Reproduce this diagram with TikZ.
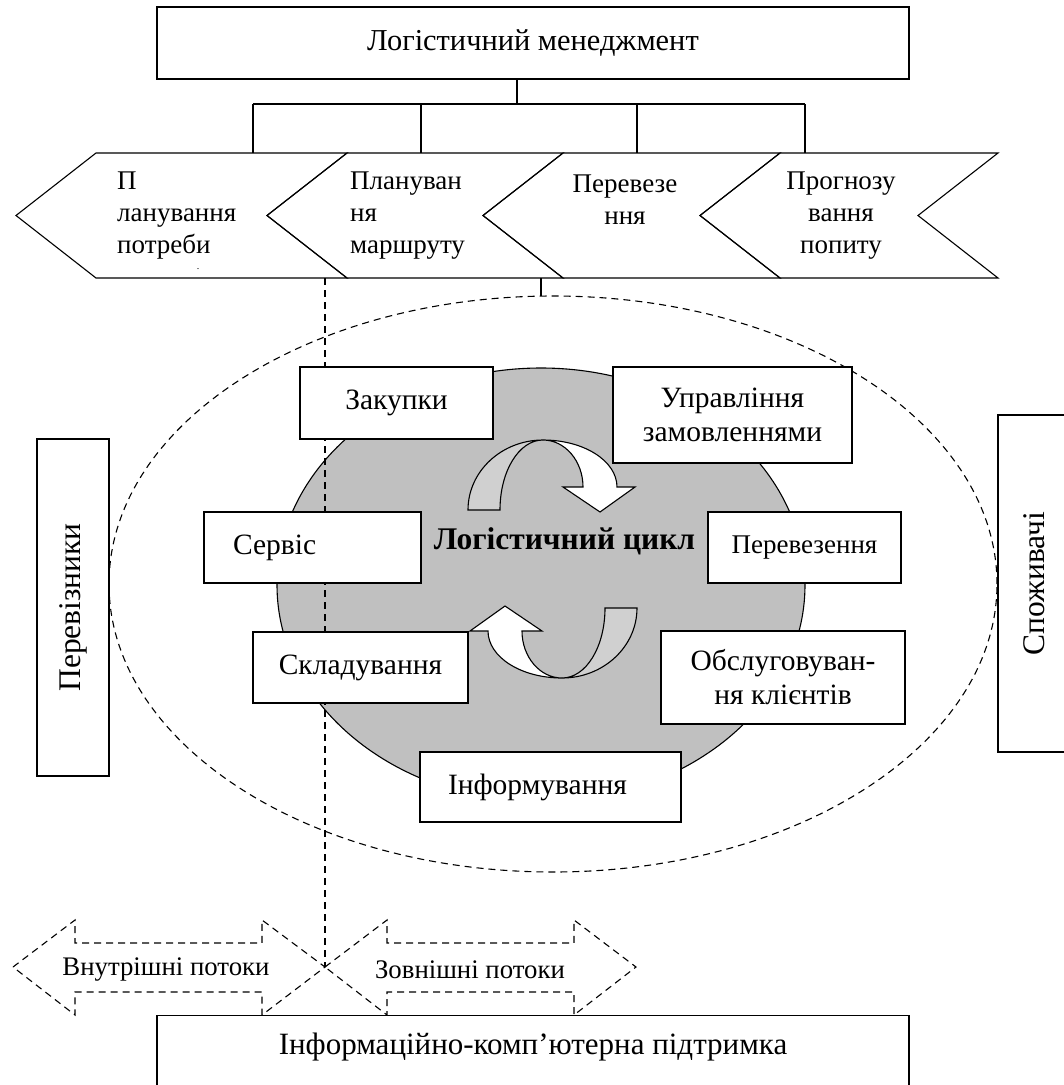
\documentclass[tikz,border=0pt]{standalone}
\usepackage{fontspec}
\setmainfont{Liberation Serif}
\definecolor{cycgray}{HTML}{C0C0C0}
\definecolor{backgray}{HTML}{D0D0D0}
\begin{document}
\begin{tikzpicture}[x=1pt,y=-1pt,
  box/.style={draw, line width=1.1pt, fill=white, inner sep=0pt, align=center, font=\fontsize{29.5}{34}\selectfont},
  lbl/.style={inner sep=0pt, align=center, font=\fontsize{29.5}{34}\selectfont},
  chevtext/.style={inner sep=0pt, font=\fontsize{27}{32}\selectfont},
  flowtext/.style={inner sep=0pt, font=\fontsize{26.8}{30}\selectfont},
  thin/.style={line width=1.1pt},
  dashline/.style={line width=1.1pt, dash pattern=on 7pt off 5pt},
  cycarrow/.style={line width=1.1pt}]
\useasboundingbox (0,0) rectangle (1064,1085);

% outer dashed ellipse and grey cycle
\draw[dashline] (553,584) ellipse [x radius=444pt, y radius=288pt];
\filldraw[fill=cycgray, thin] (541,585) ellipse [x radius=264pt, y radius=217pt];

% top management box and tree
\node[box, minimum width=752pt, minimum height=72pt, font=\fontsize{30.4}{35}\selectfont] (mgmt) at (533,43) {Логістичний менеджмент};
\coordinate (t0) at (517,104);
\coordinate (h1) at (253,104);
\coordinate (h2) at (421,104);
\coordinate (h3) at (637,104);
\coordinate (h4) at (805,104);
\coordinate (c1) at (253,153);
\coordinate (c2) at (421,153);
\coordinate (c3) at (637,153);
\coordinate (c4) at (805,153);
\draw[thin] (mgmt.south -| t0) -- (t0);
\draw[thin] (h1) -- (h4);
\draw[thin] (h1) -- (c1);
\draw[thin] (h2) -- (c2);
\draw[thin] (h3) -- (c3);
\draw[thin] (h4) -- (c4);

% chevrons
\foreach \a/\b in {16/267, 267/483, 483/700, 700/918}{
  \draw[thin, line join=miter] (\a,215.5) -- (\a+80,153) -- (\b+80,153) -- (\b,215.5) -- (\b+80,278) -- (\a+80,278) -- cycle;
}
\node[chevtext, anchor=west, align=left] (ch1) at (117,215.5) {П\\ланування\\потреби};
\node[inner sep=0pt, font=\fontsize{10}{10}\selectfont] (ch1dot) at (198,269) {.};
\node[chevtext, anchor=west, align=left] (ch2) at (350,215.5) {Плануван\\ня\\маршруту};
\node[chevtext, align=center] (ch3) at (625,199.5) {Перевезе\\ння};
\node[chevtext, align=center] (ch4) at (841,215.5) {Прогнозу\\вання\\попиту};

% connectors from chevrons
\coordinate (dv0) at (325,278);
\coordinate (cross) at (325,967);
\coordinate (sv0) at (541,278);
\coordinate (sv1) at (541,296.2);
\draw[dashline] (dv0) -- (cross);
\draw[thin] (sv0) -- (sv1);

% side boxes
\node[box, rotate=90, minimum width=337pt, minimum height=72pt, font=\fontsize{31.5}{36}\selectfont] (perev) at (73,607.5) {Перевізники};
\node[box, rotate=90, minimum width=337pt, minimum height=73pt, font=\fontsize{31.5}{36}\selectfont] (spozh) at (1034.5,583.5) {Споживачі};

% cycle boxes
\node[box, minimum width=193pt, minimum height=72pt] (zakup) at (396.5,403) {Закупки};
\node[box, minimum width=239pt, minimum height=96pt] (uprav) at (732.5,415) {Управління\\замовленнями};
\node[box, inner xsep=29pt, text width=159pt, align=left, minimum height=71pt] (servis) at (312.5,547.5) {Сервіс};
\node[box, minimum width=193pt, minimum height=71pt, font=\fontsize{27}{31}\selectfont] (perevez) at (804.5,547.5) {Перевезення};
\node[box, minimum width=215pt, minimum height=71pt] (sklad) at (360.5,667.5) {Складування};
\node[box, minimum width=244pt, minimum height=93pt] (obsl) at (783,677.5) {Обслуговуван-\\ня клієнтів};
\node[box, inner xsep=28pt, text width=205pt, align=left, minimum height=70pt] (inform) at (550.5,787) {Інформування};

% curved cycle arrows
\filldraw[fill=backgray, cycarrow] (468,510) .. controls (468,471) and (502,440) .. (543,440) .. controls (519,440) and (500,471) .. (500,510) -- cycle;
\filldraw[fill=white, cycarrow, line join=miter] (543,440) .. controls (584,440) and (617,461) .. (617,487) -- (635,487) -- (600,512) -- (563,487) -- (583,487) .. controls (583,461) and (565,440) .. (543,440) -- cycle;
\begin{scope}[rotate around={180:(552.5,559)}]
\filldraw[fill=backgray, cycarrow] (468,510) .. controls (468,471) and (502,440) .. (543,440) .. controls (519,440) and (500,471) .. (500,510) -- cycle;
\filldraw[fill=white, cycarrow, line join=miter] (543,440) .. controls (584,440) and (617,461) .. (617,487) -- (635,487) -- (600,512) -- (563,487) -- (583,487) .. controls (583,461) and (565,440) .. (543,440) -- cycle;
\end{scope}
\node[inner sep=0pt, font=\fontsize{31.5}{36}\selectfont\bfseries] (cycle) at (564.5,541) {Логістичний цикл};

% bottom flows
\draw[dashline] (13,967) -- (75,920) -- (75,943) -- (262,943) -- (262,920) -- (325,967) -- (262,1015) -- (262,992) -- (75,992) -- (75,1015) -- cycle;
\draw[dashline] (325,967) -- (387,920) -- (387,943) -- (574,943) -- (574,920) -- (636,967) -- (574,1015) -- (574,992) -- (387,992) -- (387,1015) -- cycle;
\node[flowtext] (inner) at (166,970) {Внутрішні потоки};
\node[flowtext] (outer) at (470,970) {Зовнішні потоки};

% bottom support box
\node[box, minimum width=752pt, minimum height=80pt, anchor=north] (info) at (533,1015) {};
\node[lbl, font=\fontsize{31}{36}\selectfont] (infotext) at (533,1047) {Інформаційно-комп’ютерна підтримка};
\end{tikzpicture}
\end{document}
